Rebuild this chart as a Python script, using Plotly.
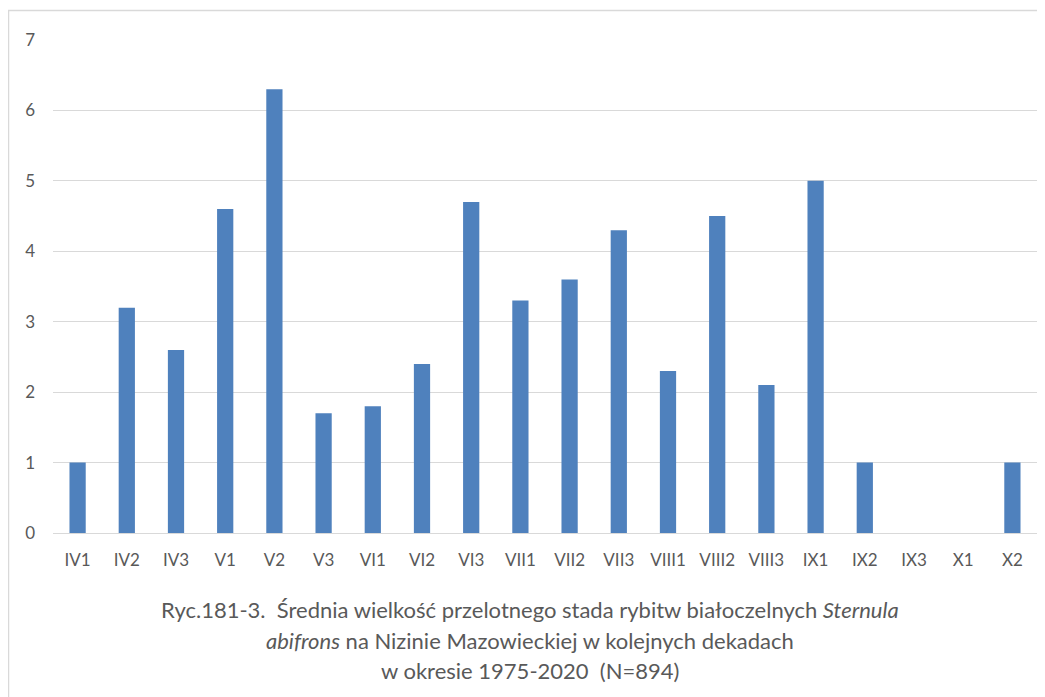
import plotly.graph_objects as go

categories = ["IV1", "IV2", "IV3", "V1", "V2", "V3", "VI1", "VI2", "VI3", "VII1",
              "VII2", "VII3", "VIII1", "VIII2", "VIII3", "IX1", "IX2", "IX3", "X1", "X2"]
values = [1.0, 3.2, 2.6, 4.6, 6.3, 1.7, 1.8, 2.4, 4.7, 3.3,
          3.6, 4.3, 2.3, 4.5, 2.1, 5.0, 1.0, 0, 0, 1.0]
y_ticks = [0, 1, 2, 3, 4, 5, 6, 7]
title_lines = [
    "Ryc.181-3.  Średnia wielkość przelotnego stada rybitw białoczelnych <i>Sternula</i>",
    "<i>abifrons</i> na Nizinie Mazowieckiej w kolejnych dekadach",
    "w okresie 1975-2020  (N=894)",
]

# page has an 8px body margin, so figure pixel (x, y) shows at (x+8, y+8)
OFF = 8
W, H = 1045 - OFF, 697 - OFF
L, T = 53 - OFF, 40 - OFF
R = W - (1037 - OFF)
B = H - (533 - OFF)
pw, ph = W - L - R, H - T - B

def px_x(x):
    return (x - OFF - L) / pw

def px_y(y):
    return (H - B - (y - OFF)) / ph

FONT = "Lato, Liberation Sans, sans-serif"
GRAY = "#595959"

fig = go.Figure(go.Bar(x=categories, y=values, marker_color="#4F81BD",
                       marker_line_width=0))

fig.update_layout(
    width=W, height=H,
    margin=dict(l=L, r=R, t=T, b=B),
    plot_bgcolor="white", paper_bgcolor="white",
    bargap=0.67,
    showlegend=False,
    font=dict(family=FONT, color=GRAY, size=17),
)
fig.update_xaxes(showgrid=False, showline=False, ticks="", ticklabelstandoff=15,
                 tickfont=dict(size=17, color=GRAY, family=FONT))
fig.update_yaxes(range=[0, 7], tickvals=y_ticks, showgrid=True, gridcolor="#D9D9D9",
                 gridwidth=1, zeroline=True, zerolinecolor="#D9D9D9", zerolinewidth=1,
                 showline=False, ticks="", ticklabelstandoff=17,
                 tickfont=dict(size=17, color=GRAY, family=FONT))

# chart border
fig.add_shape(type="rect", xref="paper", yref="paper",
              x0=px_x(8.5), x1=px_x(1080), y0=px_y(720), y1=px_y(10.5),
              line=dict(color="#D9D9D9", width=1.5), fillcolor="rgba(0,0,0,0)", layer="below")

for line, yc in zip(title_lines, [609, 640, 670]):
    fig.add_annotation(text=line, xref="paper", yref="paper", x=px_x(530), y=px_y(yc),
                       xanchor="center", yanchor="middle", showarrow=False,
                       font=dict(size=22, color=GRAY, family=FONT))

fig.write_html("out.html")
